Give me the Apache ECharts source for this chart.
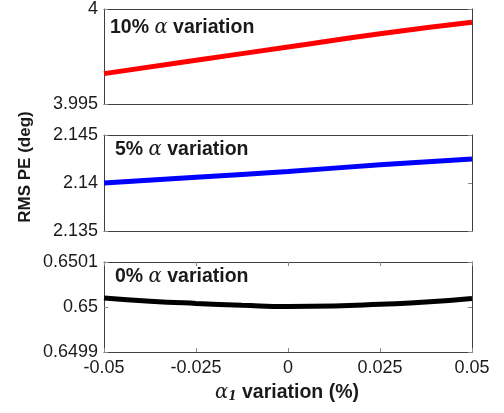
<!DOCTYPE html>
<html>
<head>
<meta charset="utf-8">
<script src="https://cdn.jsdelivr.net/npm/echarts@6/dist/echarts.min.js"></script>
<style>
  html, body { margin: 0; padding: 0; background: #fff; }
  #chart { width: 504px; height: 413px; }
</style>
</head>
<body>
<div id="chart"></div>
<script>
// x positions (alpha_1 variation, %)
const xValues = [-0.05, -0.025, 0, 0.025, 0.05]
const xBlack = [-0.05, -0.0375, -0.025, -0.0125, 0, 0.0125, 0.025, 0.0375, 0.05]

// RMS PE (deg)
const red10 = [3.9966, 3.9973, 3.9980, 3.9987, 3.9993]
const blue5 = [2.1400, 2.1406, 2.1412, 2.1419, 2.1425]
const black0 = [0.650020, 0.650013, 0.650008, 0.650004, 0.650001, 0.650002, 0.650006, 0.650011, 0.650019]

const panelLabels = ['10%', '5%', '0%']
const yRanges = [
  { min: 3.995, max: 4, interval: 0.005 },
  { min: 2.135, max: 2.145, interval: 0.005 },
  { min: 0.6499, max: 0.6501, interval: 0.0001 }
]

const chart = echarts.init(document.getElementById('chart'))

const font = 'Liberation Sans, Arial, sans-serif'
const textColor = '#1a1a1a'
const boxColor = '#404040'
const fmt = v => String(+v.toFixed(5))

const grids = [
  { left: 104, right: 32, top: 7, height: 97 },
  { left: 104, right: 32, top: 135, height: 96 },
  { left: 104, right: 32, top: 262, height: 90 }
]

const xAxis = []
const yAxis = []
grids.forEach((g, i) => {
  const isBottom = i === 2
  ;['bottom', 'top'].forEach(pos => {
    xAxis.push({
      type: 'value', gridIndex: i, min: -0.05, max: 0.05, interval: 0.025,
      position: pos,
      axisLine: { show: true, onZero: false, lineStyle: { color: boxColor, width: 1 } },
      axisTick: { show: isBottom, inside: true, length: 4, lineStyle: { color: '#888' } },
      axisLabel: { show: isBottom && pos === 'bottom', color: textColor, fontSize: 18, fontFamily: font, margin: 7, formatter: fmt },
      splitLine: { show: false }
    })
  })
  const r = yRanges[i]
  ;['left', 'right'].forEach(pos => {
    yAxis.push({
      type: 'value', gridIndex: i, min: r.min, max: r.max, interval: r.interval,
      position: pos,
      axisLine: { show: true, onZero: false, lineStyle: { color: boxColor, width: 1 } },
      axisTick: { show: true, inside: true, length: 4, lineStyle: { color: '#888' } },
      axisLabel: { show: pos === 'left', color: textColor, fontSize: 18, fontFamily: font, margin: 6, formatter: fmt },
      splitLine: { show: false }
    })
  })
})

const toPairs = (xs, ys) => xs.map((x, k) => [x, ys[k]])

const lineSeries = (idx, xs, ys, color) => ({
  type: 'line',
  xAxisIndex: idx * 2,
  yAxisIndex: idx * 2,
  data: toPairs(xs, ys),
  smooth: true,
  showSymbol: false,
  lineStyle: { color: color, width: 5 },
  clip: false,
  silent: true
})

// label centre positions inside each panel
const labelPos = [
  { x: 110, y: 26 },
  { x: 115, y: 148 },
  { x: 115, y: 275 }
]

const rich = {
  b: { fontFamily: font, fontWeight: 'bold', fontSize: 19.5, fill: textColor, color: textColor },
  a: { fontFamily: 'DejaVu Serif, serif', fontStyle: 'italic', fontSize: 19.5, fill: textColor, color: textColor },
  s: { fontFamily: 'DejaVu Serif, serif', fontStyle: 'italic', fontWeight: 'bold', fontSize: 12, fill: textColor, color: textColor, verticalAlign: 'bottom', padding: [8, 0, 0, 0] }
}

const graphic = panelLabels.map((p, i) => ({
  type: 'text',
  left: labelPos[i].x,
  top: labelPos[i].y - 8,
  style: {
    text: '{b|' + p + ' }{a|α}{b| variation}',
    rich: rich
  }
}))

graphic.push({
  type: 'text',
  x: 25,
  y: 167,
  rotation: Math.PI / 2,
  style: {
    text: 'RMS PE (deg)',
    font: 'bold 17px ' + font,
    fill: textColor,
    align: 'center',
    verticalAlign: 'middle'
  }
})

graphic.push({
  type: 'text',
  x: 287,
  y: 393,
  style: {
    text: '{a|α}{s|1}{b| variation (%)}',
    rich: rich,
    align: 'center',
    verticalAlign: 'middle'
  }
})

chart.setOption({
  animation: false,
  grid: grids,
  xAxis: xAxis,
  yAxis: yAxis,
  series: [
    lineSeries(0, xValues, red10, '#ff0000'),
    lineSeries(1, xValues, blue5, '#0000ff'),
    lineSeries(2, xBlack, black0, '#000000')
  ],
  graphic: graphic
})
</script>
</body>
</html>
